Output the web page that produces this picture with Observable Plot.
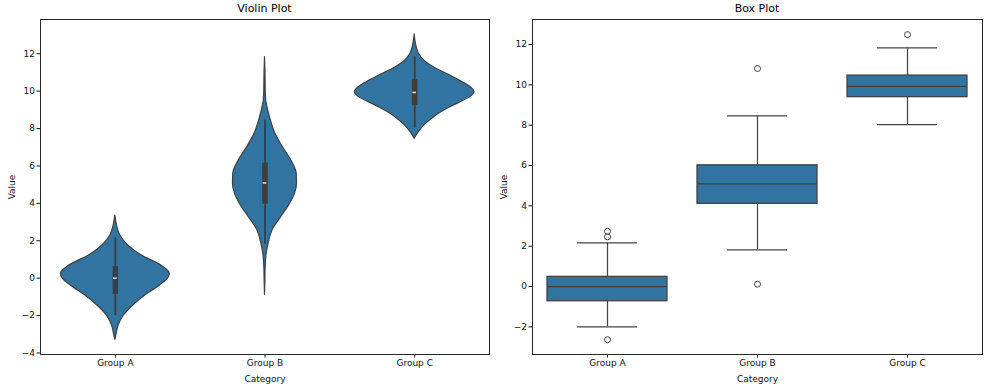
<!DOCTYPE html>
<html><head><meta charset="utf-8">
<script src="https://cdn.jsdelivr.net/npm/d3@7"></script>
<script src="https://cdn.jsdelivr.net/npm/@observablehq/plot@0.6"></script>
<style>
body{margin:0;background:#fff;}
#wrap{position:relative;width:987px;height:390px;font-family:"DejaVu Sans",sans-serif;}
.ttl{position:absolute;top:2px;font-size:11px;color:#000;transform:translateX(-50%);white-space:nowrap;line-height:13px}
.panel{position:absolute;top:0}
</style></head><body>
<div id="wrap"></div>
<script>
const categories = ["Group A", "Group B", "Group C"];
const titles = ["Violin Plot", "Box Plot"];
const xLabel = "Category";
const yLabel = "Value";
const ticksViolin = [-4, -2, 0, 2, 4, 6, 8, 10, 12];
const ticksBox = [-2, 0, 2, 4, 6, 8, 10, 12];

// box statistics per group
const q1 = [-0.73, 4.10, 9.39];
const median = [0.00, 5.09, 9.93];
const q3 = [0.48, 6.01, 10.46];
const whiskerLo = [-2.00, 1.82, 8.03];
const whiskerHi = [2.17, 8.46, 11.83];
const outliersA = [2.74, 2.46, -2.64];
const outliersB = [10.81, 0.12];
const outliersC = [12.49];

// violin density profiles (value, relative density)
const violinValuesA = [3.35, 2.82, 2.28, 1.75, 1.21, 0.68, 0.23, -0.04, -0.39, -0.93, -1.46, -2.0, -2.53, -3.06, -3.3];
const violinDensityA = [0, 0.028, 0.083, 0.215, 0.44, 0.77, 0.91, 0.875, 0.745, 0.5, 0.3, 0.14, 0.055, 0.017, 0];
const violinValuesB = [11.82, 11.0, 10.0, 9.5, 9.15, 8.61, 7.72, 7.0, 6.29, 5.58, 5.05, 4.51, 3.98, 3.26, 2.55, 1.84, 1.3, 0.5, -0.2, -0.89];
const violinDensityB = [0, 0.008, 0.012, 0.02, 0.041, 0.083, 0.175, 0.3, 0.44, 0.53, 0.535, 0.5, 0.42, 0.27, 0.125, 0.06, 0.028, 0.01, 0.006, 0];
const violinValuesC = [13.03, 12.7, 12.4, 12.0, 11.6, 11.25, 10.9, 10.55, 10.25, 9.95, 9.68, 9.4, 9.1, 8.8, 8.5, 8.2, 7.9, 7.65, 7.45];
const violinDensityC = [0, 0.012, 0.03, 0.07, 0.17, 0.33, 0.55, 0.76, 0.92, 1.0, 0.93, 0.76, 0.57, 0.41, 0.28, 0.17, 0.09, 0.035, 0];

const FILL = "#3274a1", EDGE = "#3f3f3f";
const HALF = 0.4;

const stats = categories.map((c, g) => ({g, q1: q1[g], med: median[g], q3: q3[g], lo: whiskerLo[g], hi: whiskerHi[g]}));
const outRows = [outliersA, outliersB, outliersC].flatMap((arr, g) => arr.map(v => ({g, v})));
const violinRows = [[violinValuesA, violinDensityA], [violinValuesB, violinDensityB], [violinValuesC, violinDensityC]]
  .flatMap(([vals, dens], g) => vals.map((v, k) => ({g, y: v, d: dens[k]})));

const fmt = d3.format("d");
const style = {fontFamily: "DejaVu Sans, sans-serif", fontSize: "9px", color: "#111", background: "#fff", overflow: "visible"};

function axes(ticks) {
  return [
    Plot.axisY({ticks, tickSize: 3.5, tickPadding: 2, tickFormat: fmt, label: yLabel, labelAnchor: "center", labelArrow: "none", labelOffset: 32}),
    Plot.axisX({ticks: [0, 1, 2], tickSize: 3.5, tickPadding: 2, tickFormat: i => categories[i], label: xLabel, labelAnchor: "center", labelArrow: "none", labelOffset: 27}),
    Plot.frame({stroke: "#262626", strokeWidth: 1})
  ];
}

const violin = Plot.plot({
  width: 493, height: 390,
  marginLeft: 40, marginRight: 4, marginTop: 19, marginBottom: 36,
  style,
  x: {domain: [-0.5, 2.5]},
  y: {domain: [-4.08, 13.83]},
  marks: [
    Plot.areaX(violinRows, {y: "y", x1: d => d.g - d.d * HALF, x2: d => d.g + d.d * HALF, z: "g", fill: FILL, stroke: EDGE, strokeWidth: 1.2, curve: "monotone-y"}),
    Plot.ruleX(stats, {x: "g", y1: "lo", y2: "hi", stroke: "#3d3d3d", strokeWidth: 1.8}),
    Plot.ruleX(stats, {x: "g", y1: "q1", y2: "q3", stroke: "#3d3d3d", strokeWidth: 5.5, strokeLinecap: "square"}),
    Plot.ruleY(stats, {y: "med", x1: d => d.g - 0.012, x2: d => d.g + 0.012, stroke: "#e6e6e6", strokeWidth: 1.5}),
    ...axes(ticksViolin)
  ]
});

const box = Plot.plot({
  width: 494, height: 390,
  marginLeft: 39, marginRight: 5, marginTop: 19, marginBottom: 36,
  style,
  x: {domain: [-0.5, 2.5]},
  y: {domain: [-3.37, 13.24]},
  marks: [
    Plot.ruleX(stats, {x: "g", y1: "q3", y2: "hi", stroke: "#444", strokeWidth: 1.25}),
    Plot.ruleX(stats, {x: "g", y1: "q1", y2: "lo", stroke: "#444", strokeWidth: 1.25}),
    Plot.ruleY(stats, {y: "hi", x1: d => d.g - 0.2, x2: d => d.g + 0.2, stroke: "#444", strokeWidth: 1.25}),
    Plot.ruleY(stats, {y: "lo", x1: d => d.g - 0.2, x2: d => d.g + 0.2, stroke: "#444", strokeWidth: 1.25}),
    Plot.rect(stats, {x1: d => d.g - 0.4, x2: d => d.g + 0.4, y1: "q1", y2: "q3", fill: FILL, stroke: EDGE, strokeWidth: 1.25}),
    Plot.ruleY(stats, {y: "med", x1: d => d.g - 0.4, x2: d => d.g + 0.4, stroke: EDGE, strokeWidth: 1.25}),
    Plot.dot(outRows, {x: "g", y: "v", r: 3, stroke: EDGE, fill: "none", strokeWidth: 1}),
    ...axes(ticksBox)
  ]
});

const wrap = document.getElementById("wrap");
[[violin, 0], [box, 493]].forEach(([svg, left]) => {
  const d = document.createElement("div");
  d.className = "panel"; d.style.left = left + "px";
  d.appendChild(svg); wrap.appendChild(d);
});
[[titles[0], 264.5], [titles[1], 757]].forEach(([t, cx]) => {
  const d = document.createElement("div");
  d.className = "ttl"; d.style.left = cx + "px"; d.textContent = t;
  wrap.appendChild(d);
});
</script>
</body></html>
